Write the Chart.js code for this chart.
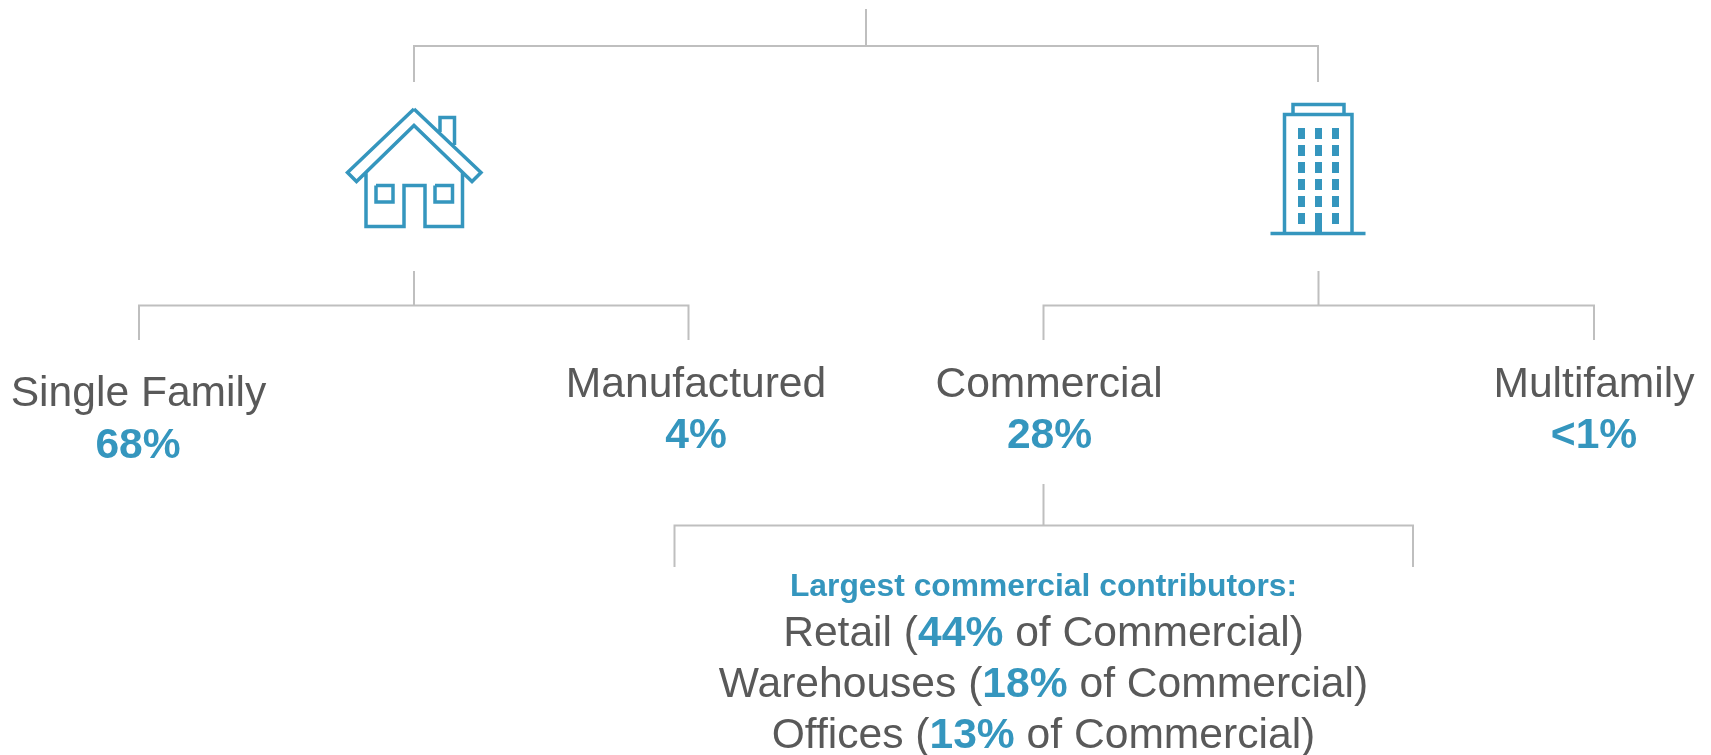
<!DOCTYPE html>
<html>
<head>
<meta charset="utf-8">
<title>Where the roof area sits by building type</title>
<script src="https://cdn.jsdelivr.net/npm/chart.js@4"></script>
<style>
  html, body { margin: 0; padding: 0; background: #ffffff; }
  canvas { display: block; }
</style>
</head>
<body>
<canvas id="tree" width="1711" height="755"></canvas>
<script>
// Tree content
const categories = ['Single Family', 'Manufactured', 'Commercial', 'Multifamily'];
const shares = ['68%', '4%', '28%', '<1%'];
const contributorTitle = 'Largest commercial contributors:';
const contributors = ['Retail', 'Warehouses', 'Offices'];
const contributorShares = ['44%', '18%', '13%'];
const contributorSuffix = ' of Commercial)';

// Colours and type
const BLUE = '#3596BE';
const GREY = '#595959';
const RULE = '#BFBFBF';
const FONT = '"Liberation Sans", Arial, sans-serif';

// Bracket connectors, on a 1711 x 755 drawing scale; null breaks a path
const connectorX = [
  866, 866, null, 414, 414, 1318, 1318, null,
  414, 414, null, 139, 139, 688.5, 688.5, null,
  1318.5, 1318.5, null, 1043.5, 1043.5, 1594, 1594, null,
  1043.5, 1043.5, null, 674.5, 674.5, 1413, 1413
];
const connectorY = [
  9, 46, null, 82, 46, 46, 82, null,
  271, 305.5, null, 340, 305.5, 305.5, 340, null,
  271, 305.5, null, 340, 305.5, 305.5, 340, null,
  484, 525.5, null, 567, 525.5, 525.5, 567
];

// House pictogram
const houseX = [
  414, 347.5, 356.5, 414, 472, 481, 414, null,
  366, 366, 404, 404, 425, 425, 462.5, 462.5, null,
  376, 393, 393, 376, 376, null,
  435, 452.5, 452.5, 435, 435, null,
  440, 440, 454.5, 454.5
];
const houseY = [
  109, 172.5, 181.5, 125.5, 181.5, 172.5, 109, null,
  172, 226.5, 226.5, 185.5, 185.5, 226.5, 226.5, 172, null,
  185.5, 185.5, 202, 202, 185.5, null,
  185.5, 185.5, 202, 202, 185.5, null,
  132, 117.5, 117.5, 145
];

// Office tower pictogram
const towerX = [
  1270.5, 1365.5, null,
  1284.5, 1284.5, 1352, 1352, null,
  1293, 1293, 1344, 1344
];
const towerY = [
  233.5, 233.5, null,
  233.5, 114.5, 114.5, 233.5, null,
  114.5, 104.5, 104.5, 114.5
];
const windowX = [
  1301.5, 1301.5, null, 1318.5, 1318.5, null, 1335.5, 1335.5, null,
  1301.5, 1301.5, null, 1318.5, 1318.5, null, 1335.5, 1335.5, null,
  1301.5, 1301.5, null, 1318.5, 1318.5, null, 1335.5, 1335.5, null,
  1301.5, 1301.5, null, 1318.5, 1318.5, null, 1335.5, 1335.5, null,
  1301.5, 1301.5, null, 1318.5, 1318.5, null, 1335.5, 1335.5, null,
  1301.5, 1301.5, null, 1318.5, 1318.5, null, 1335.5, 1335.5
];
const windowY = [
  128, 139, null, 128, 139, null, 128, 139, null,
  145, 156, null, 145, 156, null, 145, 156, null,
  162, 173, null, 162, 173, null, 162, 173, null,
  179, 190, null, 179, 190, null, 179, 190, null,
  196, 207, null, 196, 207, null, 196, 207, null,
  213, 224, null, 213, 233, null, 213, 224
];

// Where each label sits: centre x and baselines on the same scale
const categoryCentre = [138.5, 696, 1049, 1594];
const categoryBaseline = [406, 397, 397, 397];
const shareCentre = [138, 696, 1049.5, 1594];
const shareBaseline = [458, 448, 448, 448];
const contributorCentre = 1043.5;
const titleBaseline = 596;
const contributorBaseline = [646, 697, 748];

const toPoints = (xs, ys) => xs.map((x, i) => (x === null ? { x: NaN, y: NaN } : { x, y: ys[i] }));

const path = (label, xs, ys, color, width) => ({
  label,
  data: toPoints(xs, ys),
  showLine: true,
  spanGaps: false,
  borderColor: color,
  borderWidth: width,
  borderCapStyle: 'butt',
  borderJoinStyle: 'miter',
  tension: 0,
  fill: false,
  pointRadius: 0,
  pointHoverRadius: 0
});

// Draws the labels; a row can mix grey and bold blue runs around one centre
const treeLabels = {
  id: 'treeLabels',
  afterDatasetsDraw(chart) {
    const { ctx, scales } = chart;
    const px = v => scales.x.getPixelForValue(v);
    const py = v => scales.y.getPixelForValue(v);

    const row = (runs, cx, baseline) => {
      ctx.save();
      ctx.textBaseline = 'alphabetic';
      ctx.textAlign = 'left';
      let total = 0;
      runs.forEach(r => { ctx.font = r.font; total += ctx.measureText(r.text).width; });
      let x = px(cx) - total / 2;
      runs.forEach(r => {
        ctx.font = r.font;
        ctx.fillStyle = r.color;
        ctx.fillText(r.text, x, py(baseline));
        x += ctx.measureText(r.text).width;
      });
      ctx.restore();
    };

    const regular = `42.6px ${FONT}`;
    const bold = `bold 42.6px ${FONT}`;

    categories.forEach((name, i) => {
      row([{ text: name, font: regular, color: GREY }], categoryCentre[i], categoryBaseline[i]);
      row([{ text: shares[i], font: bold, color: BLUE }], shareCentre[i], shareBaseline[i]);
    });

    row([{ text: contributorTitle, font: `bold 31.8px ${FONT}`, color: BLUE }], contributorCentre, titleBaseline);

    contributors.forEach((name, i) => {
      row([
        { text: `${name} (`, font: regular, color: GREY },
        { text: contributorShares[i], font: bold, color: BLUE },
        { text: contributorSuffix, font: regular, color: GREY }
      ], contributorCentre, contributorBaseline[i]);
    });
  }
};

new Chart(document.getElementById('tree'), {
  type: 'scatter',
  data: {
    datasets: [
      path('Connectors', connectorX, connectorY, RULE, 2),
      path('House', houseX, houseY, BLUE, 3.5),
      path('Tower', towerX, towerY, BLUE, 3.5),
      path('Tower windows', windowX, windowY, BLUE, 7)
    ]
  },
  options: {
    responsive: false,
    animation: false,
    events: [],
    layout: { padding: 0 },
    scales: {
      x: { type: 'linear', display: false, min: 0, max: 1711 },
      y: { type: 'linear', display: false, min: 0, max: 755, reverse: true }
    },
    plugins: {
      legend: { display: false },
      title: { display: false },
      tooltip: { enabled: false }
    }
  },
  plugins: [treeLabels]
});
</script>
</body>
</html>
